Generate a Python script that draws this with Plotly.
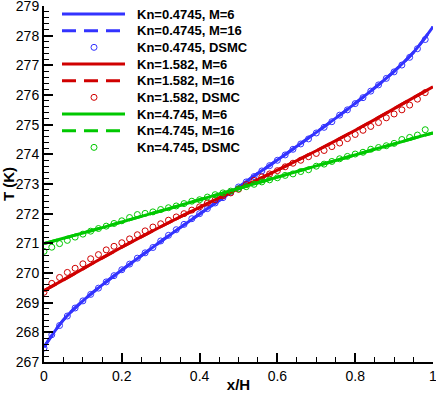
import plotly.graph_objects as go

# model curves (M=6 and M=16 coincide), sampled every 0.05
x_line = [0.00, 0.05, 0.10, 0.15, 0.20, 0.25, 0.30, 0.35, 0.40, 0.45, 0.50,
          0.55, 0.60, 0.65, 0.70, 0.75, 0.80, 0.85, 0.90, 0.95, 1.00]
t_blue = [267.50, 268.42, 269.06, 269.60, 270.10, 270.58, 271.06, 271.53, 271.99, 272.44, 272.90,
          273.36, 273.81, 274.27, 274.74, 275.22, 275.72, 276.24, 276.80, 277.44, 278.30]
t_red = [269.40, 269.77, 270.14, 270.51, 270.87, 271.22, 271.56, 271.89, 272.21, 272.53, 272.84,
         273.15, 273.47, 273.79, 274.12, 274.46, 274.81, 275.17, 275.54, 275.91, 276.28]
t_green = [270.99, 271.17, 271.35, 271.53, 271.72, 271.91, 272.09, 272.28, 272.47, 272.66, 272.85,
           273.04, 273.23, 273.42, 273.61, 273.79, 273.98, 274.17, 274.35, 274.54, 274.72]

# DSMC samples every 0.02
x_dsmc = [0.00, 0.02, 0.04, 0.06, 0.08, 0.10, 0.12, 0.14, 0.16, 0.18,
          0.20, 0.22, 0.24, 0.26, 0.28, 0.30, 0.32, 0.34, 0.36, 0.38,
          0.40, 0.42, 0.44, 0.46, 0.48, 0.50, 0.52, 0.54, 0.56, 0.58,
          0.60, 0.62, 0.64, 0.66, 0.68, 0.70, 0.72, 0.74, 0.76, 0.78,
          0.80, 0.82, 0.84, 0.86, 0.88, 0.90, 0.92, 0.94, 0.96, 0.98]
d_blue = [267.47, 267.92, 268.23, 268.55, 268.82, 269.06, 269.28, 269.49, 269.70, 269.91,
          270.11, 270.30, 270.50, 270.68, 270.86, 271.08, 271.27, 271.46, 271.64, 271.83,
          272.00, 272.17, 272.36, 272.54, 272.72, 272.90, 273.07, 273.25, 273.44, 273.62,
          273.80, 273.98, 274.17, 274.35, 274.52, 274.72, 274.91, 275.10, 275.32, 275.50,
          275.71, 275.91, 276.13, 276.34, 276.56, 276.78, 277.01, 277.27, 277.56, 277.87]
d_red = [269.35, 269.65, 269.85, 270.02, 270.16, 270.31, 270.48, 270.62, 270.78, 270.90,
         271.02, 271.15, 271.29, 271.42, 271.55, 271.66, 271.78, 271.89, 272.00, 272.12,
         272.23, 272.36, 272.47, 272.60, 272.70, 272.82, 272.98, 273.12, 273.24, 273.34,
         273.45, 273.58, 273.70, 273.80, 273.92, 274.03, 274.13, 274.26, 274.38, 274.53,
         274.67, 274.81, 274.94, 275.07, 275.23, 275.36, 275.50, 275.66, 275.86, 276.08]
d_green = [270.73, 270.87, 270.99, 271.10, 271.21, 271.31, 271.41, 271.50, 271.58, 271.67,
           271.76, 271.87, 271.97, 272.01, 272.06, 272.14, 272.20, 272.26, 272.34, 272.42,
           272.47, 272.56, 272.64, 272.70, 272.76, 272.84, 272.91, 272.99, 273.07, 273.14,
           273.21, 273.29, 273.34, 273.42, 273.48, 273.60, 273.67, 273.76, 273.85, 273.93,
           274.01, 274.07, 274.17, 274.23, 274.29, 274.37, 274.50, 274.57, 274.65, 274.83]

cases = [
    ("0.4745", "#3333ff", t_blue, d_blue),
    ("1.582", "#d00000", t_red, d_red),
    ("4.745", "#00c800", t_green, d_green),
]

W, H = 436, 393
ML, MR, MT, MB = 44, 3, 6, 31
PW, PH = W - ML - MR, H - MT - MB

font = "Liberation Sans, Arial, sans-serif"

fig = go.Figure()
shapes, annotations = [], []


def px2paper(px, py):
    return (px - ML) / PW, (H - MB - py) / PH


# legend is drawn by hand: tecplot-style long symbols and tight rows
row = 0
for kn, color, t_line, t_dsmc in cases:
    fig.add_trace(go.Scatter(x=x_line, y=t_line, mode="lines", name=f"Kn={kn}, M=6",
                             line=dict(color=color, width=3, shape="spline"), showlegend=False))
    fig.add_trace(go.Scatter(x=x_line, y=t_line, mode="lines", name=f"Kn={kn}, M=16",
                             line=dict(color=color, width=3, dash="14px,8px", shape="spline"),
                             showlegend=False))
    fig.add_trace(go.Scatter(x=x_dsmc, y=t_dsmc, mode="markers", name=f"Kn={kn}, DSMC",
                             marker=dict(symbol="circle-open", size=6, color=color,
                                         line=dict(width=1, color=color)), showlegend=False))

    for label, kind in [("M=6", "solid"), ("M=16", "dash"), ("DSMC", "marker")]:
        cy = 14 + row * 16.67
        x0, yy = px2paper(62, cy)
        x1, _ = px2paper(125, cy)
        if kind == "marker":
            xc, _ = px2paper(94, cy)
            shapes.append(dict(type="circle", xref="paper", yref="paper",
                               xsizemode="pixel", ysizemode="pixel",
                               xanchor=xc, yanchor=yy, x0=-3, x1=3, y0=-3, y1=3,
                               line=dict(color=color, width=1)))
        else:
            shapes.append(dict(type="line", xref="paper", yref="paper",
                               x0=x0, x1=x1, y0=yy, y1=yy,
                               line=dict(color=color, width=3,
                                         dash="solid" if kind == "solid" else "14px,8px")))
        xt, _ = px2paper(135, cy)
        annotations.append(dict(text=f"Kn={kn}, {label}", xref="paper", yref="paper",
                                x=xt, y=yy, xanchor="left", yanchor="middle", showarrow=False,
                                font=dict(family=font, size=13, color="black", weight="bold")))
        row += 1

axis_common = dict(
    showline=True, linecolor="black", linewidth=2, mirror=False,
    ticks="inside", ticklen=9, tickwidth=2, tickcolor="black",
    showgrid=False, zeroline=False, automargin=False, ticklabeloverflow="allow",
    tickfont=dict(family=font, size=14, color="black"),
    title_font=dict(family=font, size=15, color="black", weight="bold"),
)

fig.update_xaxes(range=[0, 1], dtick=0.2, tick0=0, title_text="x/H", title_standoff=1,
                 minor=dict(dtick=0.05, ticks="inside", ticklen=5, tickwidth=1, tickcolor="black"),
                 **axis_common)
fig.update_yaxes(range=[267, 279], dtick=1, tick0=267, title_text="T (K)", title_standoff=2,
                 minor=dict(dtick=0.2, ticks="inside", ticklen=5, tickwidth=1, tickcolor="black"),
                 **axis_common)

fig.update_layout(
    width=W, height=H,
    margin=dict(l=ML, r=MR, t=MT, b=MB),
    plot_bgcolor="white", paper_bgcolor="white",
    showlegend=False,
    shapes=shapes, annotations=annotations,
)

# the page body has a default 8px margin; drop it so the figure fills the window
fig.write_html("out.html", config={"displayModeBar": False},
               post_script="document.body.style.margin='0';")
